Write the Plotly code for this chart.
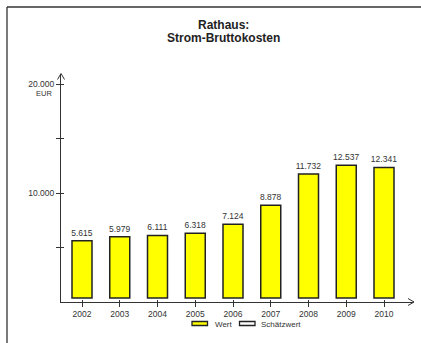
import plotly.graph_objects as go

# ---- data ----
years = [2002, 2003, 2004, 2005, 2006, 2007, 2008, 2009, 2010]
wert = [5615, 5979, 6111, 6318, 7124, 8878, 11732, 12537, 12341]
y_tickvals = [5000, 10000, 15000, 20000]
y_ticktext = ["", "10.000", "", "20.000"]
legend_labels = ["Wert", "Schätzwert"]
legend_fills = ["#FFFF00", "#FFFFFF"]
title_lines = ["Rathaus:", "Strom-Bruttokosten"]
unit_label = "EUR"

# ---- layout geometry (pixels) ----
W, H = 421, 343
L, R, T, B = 61, 413, 74, 302          # plot area edges
PPU = 109 / 10000                      # pixels per EUR
BAR_BASE = 4 / PPU                     # bars start slightly above axis
x_lo = years[0] - (82 - L) / 37.75
x_hi = years[-1] + (R - 384) / 37.75
y_hi = (B - T) / PPU

def px(x):
    return (x - L) / (R - L)

def py(y):
    return (B - y) / (B - T)

FONT = "Liberation Sans, Arial, sans-serif"
DARK = "#333333"

def fmt(v):
    return f"{v:,}".replace(",", ".")

fig = go.Figure()
fig.add_trace(go.Bar(
    x=years, y=[v - BAR_BASE for v in wert], base=BAR_BASE,
    width=0.53,
    marker=dict(color="#FFFF00", line=dict(color="#222222", width=1.5)),
    text=[fmt(v) for v in wert], texttemplate="%{text}",
    textposition="outside", cliponaxis=False, constraintext="none",
    textfont=dict(family=FONT, size=8.5, color=DARK),
    showlegend=False, hoverinfo="skip",
))
# empty trace to create overlay axes (inner halves of crossing ticks)
fig.add_trace(go.Scatter(x=[None], y=[None], xaxis="x2", yaxis="y2",
                         showlegend=False, hoverinfo="skip"))

axis_common = dict(showgrid=False, zeroline=False, fixedrange=True)
fig.update_layout(
    width=W, height=H,
    margin=dict(l=L, r=W - R, t=T, b=H - B, pad=0),
    paper_bgcolor="white", plot_bgcolor="white",
    font=dict(family=FONT, size=8, color=DARK),
    xaxis=dict(range=[x_lo, x_hi], tickvals=years, ticktext=[str(y) for y in years],
               showline=True, linecolor=DARK, linewidth=1,
               ticks="outside", ticklen=4, tickwidth=1, tickcolor=DARK,
               tickfont=dict(family=FONT, size=8.5, color=DARK), **axis_common),
    yaxis=dict(range=[0, y_hi], tickvals=y_tickvals, ticktext=y_ticktext,
               showline=True, linecolor=DARK, linewidth=1,
               ticks="outside", ticklen=4, tickwidth=1, tickcolor=DARK,
               tickfont=dict(family=FONT, size=8.5, color=DARK), **axis_common),
    xaxis2=dict(range=[x_lo, x_hi], overlaying="x", anchor="y2", tickvals=years,
                ticks="inside", ticklen=2, tickwidth=1, tickcolor=DARK,
                showticklabels=False, showline=False, **axis_common),
    yaxis2=dict(range=[0, y_hi], overlaying="y", anchor="x2", tickvals=y_tickvals,
                ticks="inside", ticklen=3, tickwidth=1, tickcolor=DARK,
                showticklabels=False, showline=False, **axis_common),
    bargap=0,
)

shapes = []
# outer frame (top and left edges)
shapes.append(dict(type="line", xref="paper", yref="paper",
                   x0=px(7), y0=py(H + 5), x1=px(7), y1=py(7),
                   line=dict(color=DARK, width=1.3)))
shapes.append(dict(type="line", xref="paper", yref="paper",
                   x0=px(7), y0=py(7), x1=px(W + 5), y1=py(7),
                   line=dict(color=DARK, width=1.3)))
# arrowheads
shapes.append(dict(type="path", xref="paper", yref="paper",
                   path=f"M {px(57.5)} {py(79.5)} L {px(61)} {py(73.5)} L {px(64.5)} {py(79.5)}",
                   line=dict(color=DARK, width=1)))
shapes.append(dict(type="path", xref="paper", yref="paper",
                   path=f"M {px(408)} {py(298.5)} L {px(414)} {py(302)} L {px(408)} {py(305.5)}",
                   line=dict(color=DARK, width=1)))
# extend x-axis line to arrow tip
shapes.append(dict(type="line", xref="paper", yref="paper",
                   x0=px(R), y0=py(B), x1=px(414), y1=py(B),
                   line=dict(color=DARK, width=1)))

annotations = []
# legend swatches and labels
sw_x = [192, 239.5]
tx_x = [212.5, 259]
for lab, fill, sx, tx in zip(legend_labels, legend_fills, sw_x, tx_x):
    shapes.append(dict(type="rect", xref="paper", yref="paper",
                       x0=px(sx), x1=px(sx + 15.5), y0=py(325.5), y1=py(321.5),
                       fillcolor=fill, line=dict(color="#222222", width=1.3)))
    annotations.append(dict(xref="paper", yref="paper", x=px(tx), y=py(324),
                            text=lab, showarrow=False, xanchor="left", yanchor="middle",
                            font=dict(family=FONT, size=8, color=DARK)))
# titles
for line, yy in zip(title_lines, [25, 38]):
    annotations.append(dict(xref="paper", yref="paper", x=px(223.5), y=py(yy),
                            text=f"<b>{line}</b>", showarrow=False,
                            xanchor="center", yanchor="middle",
                            font=dict(family=FONT, size=12, color="#222222")))
# unit label
annotations.append(dict(xref="paper", yref="paper", x=px(54), y=py(93.5),
                        text=unit_label, showarrow=False, xanchor="right", yanchor="middle",
                        font=dict(family=FONT, size=7.5, color=DARK)))

fig.update_layout(shapes=shapes, annotations=annotations)
fig.write_html("out.html", config={"displayModeBar": False, "staticPlot": True},
               post_script=("document.documentElement.style.overflow='hidden';"
                            "document.body.style.margin='0';"
                            "document.body.style.overflow='hidden';"))
